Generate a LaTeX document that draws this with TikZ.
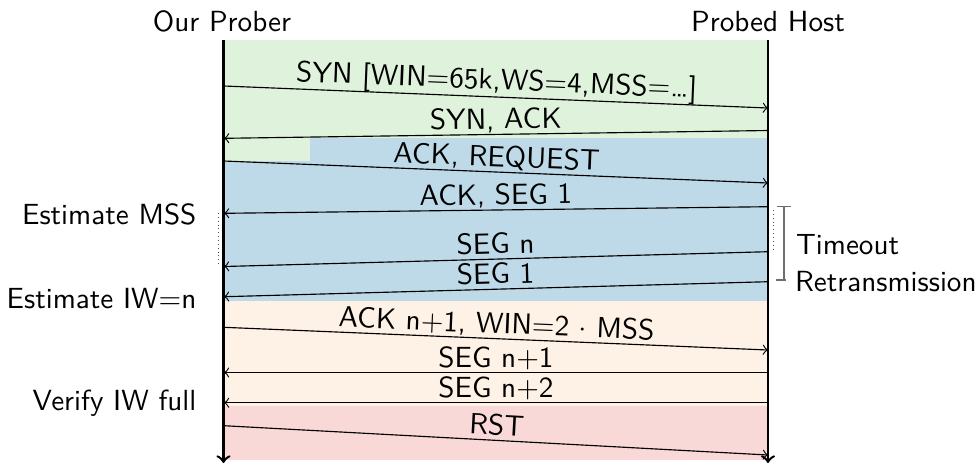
\documentclass[tikz,border=0pt]{standalone}
\usetikzlibrary{arrows}
\definecolor{phaseA}{RGB}{223,242,220}
\definecolor{phaseB}{RGB}{190,218,232}
\definecolor{phaseC}{RGB}{254,241,229}
\definecolor{phaseD}{RGB}{249,216,216}
\definecolor{bracegray}{RGB}{110,110,110}
\begin{document}
\begin{tikzpicture}[x=0.35pt,y=-0.35pt,
  every node/.style={font=\sffamily\fontsize{10.2}{12}\selectfont,inner sep=0pt},
  lifeline/.style={line width=0.85pt,->},
  msg/.style={line width=0.4pt,->},
  msglabel/.style={midway,sloped,anchor=base,yshift=1.9pt},
  side/.style={anchor=base east},
  dotmark/.style={densely dotted,line width=0.35pt,black!70},
  brace/.style={line width=0.5pt,bracegray}]
\useasboundingbox (0,0) rectangle (976,464);

% phase backgrounds
\fill[phaseA] (224,40) rectangle (768,137.5);
\fill[phaseA] (224,137.5) rectangle (310,161);
\fill[phaseB] (310,137.5) rectangle (768,161);
\fill[phaseB] (224,161) rectangle (768,300.7);
\fill[phaseC] (224,300.7) rectangle (768,405.7);
\fill[phaseD] (224,405.7) rectangle (768,460);

% participants
\node[anchor=base] (prober) at (222,31) {Our Prober};
\node[anchor=base] (host) at (768,31) {Probed Host};

\coordinate (Ltop) at (223.5,40);
\coordinate (Lbot) at (223.5,463);
\coordinate (Rtop) at (768,40);
\coordinate (Rbot) at (768,463);
\draw[lifeline] (Ltop) -- (Lbot);
\draw[lifeline] (Rtop) -- (Rbot);

% message end points on the lifelines
\coordinate (a1) at (224,86);   \coordinate (b1) at (768,108);
\coordinate (b2) at (768,130.5);\coordinate (a2) at (224,138.3);
\coordinate (a3) at (224,161);  \coordinate (b3) at (768,183);
\coordinate (b4) at (768,206.7);\coordinate (a4) at (224,213.3);
\coordinate (b5) at (768,251.7);\coordinate (a5) at (224,266.5);
\coordinate (b6) at (768,281.7);\coordinate (a6) at (224,296.7);
\coordinate (a7) at (224,327.3);\coordinate (b7) at (768,350);
\coordinate (b8) at (768,372.5);\coordinate (a8) at (224,372.5);
\coordinate (b9) at (768,402.7);\coordinate (a9) at (224,402.7);
\coordinate (a10) at (224,425.7);\coordinate (b10) at (768,455);

% messages
\draw[msg] (a1) -- node[msglabel,yshift=0.7pt] {SYN [WIN=65k,WS=4,MSS=\ldots]} (b1);
\draw[msg] (b2) -- node[msglabel] {SYN, ACK} (a2);
\draw[msg] (a3) -- node[msglabel] {ACK, REQUEST} (b3);
\draw[msg] (b4) -- node[msglabel] {ACK, SEG 1} (a4);
\draw[msg] (b5) -- node[msglabel] {SEG n} (a5);
\draw[msg] (b6) -- node[msglabel] {SEG 1} (a6);
\draw[msg] (a7) -- node[msglabel] {ACK n+1, WIN=2 $\cdot$ MSS} (b7);
\draw[msg] (b8) -- node[msglabel] {SEG n+1} (a8);
\draw[msg] (b9) -- node[msglabel] {SEG n+2} (a9);
\draw[msg] (a10) -- node[msglabel] {RST} (b10);

% prober side annotations
\node[side] (estmss) at (197,224) {Estimate MSS};
\node[side] (estiw) at (197,308) {Estimate IW=n};
\node[side] (verify) at (197,410) {Verify IW full};
\coordinate (dl1) at (218,213);
\coordinate (dl2) at (218,265);
\draw[dotmark] (dl1) -- (dl2);

% host side: retransmission timeout
\coordinate (dr1) at (773,210);
\coordinate (dr2) at (773,252);
\draw[dotmark] (dr1) -- (dr2);
\coordinate (bt) at (784,206.7);
\coordinate (bb) at (784,280);
\draw[brace] (bt) -- (bb);
\draw[brace] ([xshift=-7.5*0.35pt]bt) -- ([xshift=7*0.35pt]bt);
\draw[brace] ([xshift=-8*0.35pt]bb) -- ([xshift=1.5*0.35pt]bb);
\node[anchor=base west] (timeout) at (795.5,254) {Timeout};
\node[anchor=base west] (retrans) at (794.5,291) {Retransmission};
\end{tikzpicture}
\end{document}
